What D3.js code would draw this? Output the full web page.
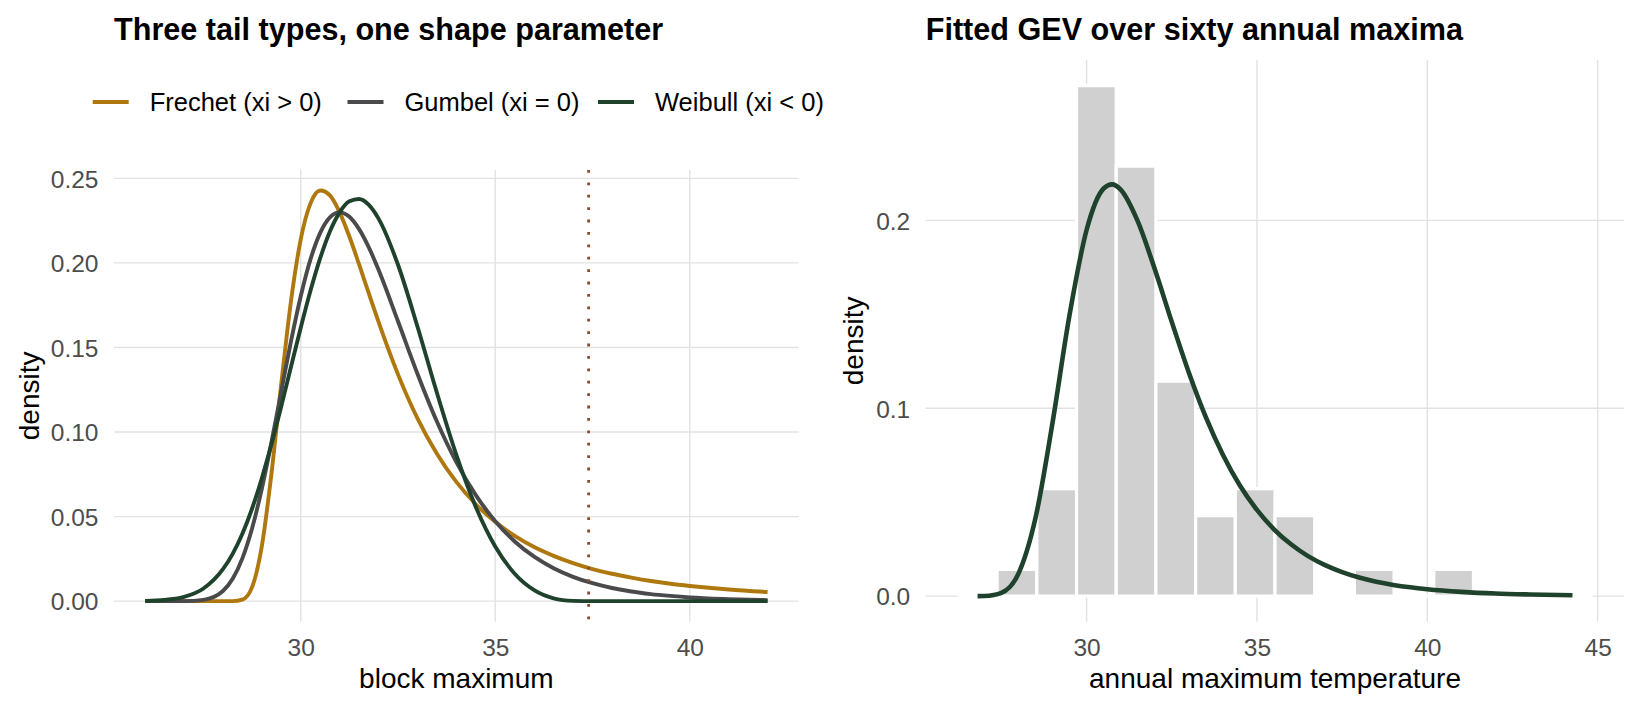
<!DOCTYPE html>
<html>
<head>
<meta charset="utf-8">
<script src="https://cdn.jsdelivr.net/npm/d3@7"></script>
<style>
  html, body { margin: 0; padding: 0; background: #ffffff; }
  svg { display: block; font-family: "Liberation Sans", Arial, Helvetica, sans-serif; }
</style>
</head>
<body>
<script>
// ---------------- data ----------------
const leftX = [26, 26.5, 27, 27.5, 28, 28.25, 28.5, 28.75, 29, 29.25, 29.5, 29.75, 30, 30.25, 30.5, 30.75,
  31, 31.25, 31.5, 31.75, 32, 32.5, 33, 33.5, 34, 34.5, 35, 35.5, 36, 36.5, 37, 37.5, 38, 38.5, 39, 39.5, 40, 41, 42];
const frechet = [0, 0, 0, 0, 0, 0.00002, 0.0009, 0.0083, 0.0325, 0.0759, 0.1286, 0.1775, 0.2139, 0.2352, 0.2428, 0.2399,
  0.2299, 0.2156, 0.1991, 0.1820, 0.1651, 0.1341, 0.1081, 0.0872, 0.0705, 0.0573, 0.0469, 0.0386, 0.0320, 0.0268, 0.0225,
  0.0190, 0.0162, 0.0139, 0.0119, 0.0103, 0.0090, 0.0069, 0.0054];
const gumbel = [0, 0, 0.00004, 0.0008, 0.0060, 0.0132, 0.0253, 0.0431, 0.0665, 0.0943, 0.1242, 0.1537, 0.1803, 0.2021, 0.2178, 0.2270,
  0.2299, 0.2273, 0.2200, 0.2092, 0.1959, 0.1655, 0.1345, 0.1062, 0.0822, 0.0627, 0.0473, 0.0353, 0.0263, 0.0195, 0.0144,
  0.0106, 0.0078, 0.0057, 0.0042, 0.0031, 0.0022, 0.0012, 0.0006];
const weibull = [0.0002, 0.0007, 0.0025, 0.0075, 0.0189, 0.0280, 0.0399, 0.0548, 0.0727, 0.0930, 0.1153, 0.1386, 0.1617, 0.1835, 0.2028, 0.2186,
  0.2299, 0.2364, 0.2378, 0.2343, 0.2262, 0.1989, 0.1624, 0.1232, 0.0865, 0.0557, 0.0323, 0.0162, 0.0065, 0.0017, 0.0002,
  0, 0, 0, 0, 0, 0, 0, 0];
const seriesNames = ["Frechet (xi > 0)", "Gumbel (xi = 0)", "Weibull (xi < 0)"];
const upperBound = 37.4;           // dotted reference line
const leftXTicks = [30, 35, 40];
const leftYTicks = [0, 0.05, 0.10, 0.15, 0.20, 0.25];

const binStart = 26.21;
const binWidth = 1.165;
const histDensity = [0, 0.0143, 0.0572, 0.2718, 0.2289, 0.1144, 0.0429, 0.0572, 0.0429, 0, 0.0143, 0, 0.0143, 0, 0, 0];
const fitX = [26.8, 27, 27.5, 28, 28.5, 29, 29.5, 30, 30.5, 30.75, 31, 31.5, 32, 32.5, 33, 33.5, 34, 34.5, 35, 35.5,
  36, 36.5, 37, 37.5, 38, 38.5, 39, 39.5, 40, 41, 42, 43, 44.26];
const fitY = [0.0000, 0.0001, 0.0018, 0.0120, 0.0416, 0.0923, 0.1497, 0.1949, 0.2170, 0.2192, 0.2164, 0.1996, 0.1741, 0.1460,
  0.1191, 0.0953, 0.0753, 0.0589, 0.0459, 0.0356, 0.0276, 0.0213, 0.0165, 0.0128, 0.0099, 0.0077, 0.0060, 0.0047, 0.0037,
  0.0023, 0.0014, 0.0009, 0.0005];
const rightXTicks = [30, 35, 40, 45];
const rightYTicks = [0, 0.1, 0.2];

// ---------------- styling ----------------
const colors = ["#AF780F", "#4A4A4C", "#1F422C"];
const gridColor = "#E2E2E2";
const tickColor = "#4D4D4D";
const W = 1651, H = 710;

const svg = d3.select("body").append("svg").attr("width", W).attr("height", H);

function expand(lo, hi) { const d = (hi - lo) * 0.05; return [lo - d, hi + d]; }

// ================= LEFT PANEL =================
const L = { x0: 114, x1: 798.7, y0: 170, y1: 621.7 };
const allLeft = frechet.concat(gumbel, weibull);
const xl = d3.scaleLinear().domain(expand(d3.min(leftX), d3.max(leftX))).range([L.x0, L.x1]);
const yl = d3.scaleLinear().domain(expand(0, d3.max(allLeft))).range([L.y1, L.y0]);

const gl = svg.append("g");
// grid
gl.selectAll("line.hg").data(leftYTicks).join("line")
  .attr("x1", L.x0).attr("x2", L.x1).attr("y1", d => yl(d)).attr("y2", d => yl(d))
  .attr("stroke", gridColor).attr("stroke-width", 1.4);
gl.selectAll("line.vg").data(leftXTicks).join("line")
  .attr("y1", L.y0).attr("y2", L.y1).attr("x1", d => xl(d)).attr("x2", d => xl(d))
  .attr("stroke", gridColor).attr("stroke-width", 1.4);

// axes (text only, via d3 axes)
const axL = gl.append("g").attr("transform", `translate(${L.x0 - 15.5},0)`)
  .call(d3.axisLeft(yl).tickValues(leftYTicks).tickFormat(d3.format(".2f")).tickSize(0).tickPadding(0));
const axB = gl.append("g").attr("transform", `translate(0,${L.y1 + 15})`)
  .call(d3.axisBottom(xl).tickValues(leftXTicks).tickFormat(d3.format("d")).tickSize(0).tickPadding(0));
[axL, axB].forEach(a => { a.select(".domain").remove(); a.selectAll("text").attr("fill", tickColor).attr("font-size", 24.5).attr("font-family", null); });
axL.selectAll("text").attr("dy", "0.36em");
axB.selectAll("text").attr("dy", "0.8em");

// curves
const lineL = d3.line().x(d => xl(d[0])).y(d => yl(d[1])).curve(d3.curveMonotoneX);
[frechet, gumbel, weibull].forEach((s, i) => {
  gl.append("path").datum(leftX.map((x, k) => [x, s[k]]))
    .attr("d", lineL).attr("fill", "none").attr("stroke", colors[i])
    .attr("stroke-width", 3.9).attr("stroke-linejoin", "round");
});
// dotted line
gl.append("line").attr("x1", xl(upperBound)).attr("x2", xl(upperBound)).attr("y1", L.y0).attr("y2", L.y1)
  .attr("stroke", "#8A4A2E").attr("stroke-width", 2.8).attr("stroke-dasharray", "2.8 9.6");

// titles
svg.append("text").attr("x", L.x0).attr("y", 40).attr("font-size", 30.6).attr("font-weight", "bold")
  .attr("fill", "#000").text("Three tail types, one shape parameter");
svg.append("text").attr("x", (L.x0 + L.x1) / 2).attr("y", 688).attr("text-anchor", "middle")
  .attr("font-size", 28).attr("fill", "#000").text("block maximum");
svg.append("text").attr("transform", `translate(39,${(L.y0 + L.y1) / 2}) rotate(-90)`).attr("text-anchor", "middle")
  .attr("font-size", 28).attr("fill", "#000").text("density");

// legend
const legendKeyX = [92.7, 347.5, 598];
const legY = 102;
seriesNames.forEach((n, i) => {
  svg.append("line").attr("x1", legendKeyX[i]).attr("x2", legendKeyX[i] + 36).attr("y1", legY).attr("y2", legY)
    .attr("stroke", colors[i]).attr("stroke-width", 4);
  svg.append("text").attr("x", legendKeyX[i] + 57).attr("y", legY).attr("dy", "0.36em")
    .attr("font-size", 25.5).attr("fill", "#000").text(n);
});

// ================= RIGHT PANEL =================
const R = { x0: 925.7, x1: 1624.3, y0: 60, y1: 621.7 };
const nb = histDensity.length;
const bins = histDensity.map((d, i) => ({ a: binStart + i * binWidth, b: binStart + (i + 1) * binWidth, d }));
const xr = d3.scaleLinear().domain(expand(binStart, binStart + nb * binWidth)).range([R.x0, R.x1]);
const yr = d3.scaleLinear().domain(expand(0, d3.max(histDensity))).range([R.y1, R.y0]);

const gr = svg.append("g");
gr.selectAll("line.hg").data(rightYTicks).join("line")
  .attr("x1", R.x0).attr("x2", R.x1).attr("y1", d => yr(d)).attr("y2", d => yr(d))
  .attr("stroke", gridColor).attr("stroke-width", 1.4);
gr.selectAll("line.vg").data(rightXTicks).join("line")
  .attr("y1", R.y0).attr("y2", R.y1).attr("x1", d => xr(d)).attr("x2", d => xr(d))
  .attr("stroke", gridColor).attr("stroke-width", 1.4);

const axRL = gr.append("g").attr("transform", `translate(${R.x0 - 15.5},0)`)
  .call(d3.axisLeft(yr).tickValues(rightYTicks).tickFormat(d3.format(".1f")).tickSize(0).tickPadding(0));
const axRB = gr.append("g").attr("transform", `translate(0,${R.y1 + 15})`)
  .call(d3.axisBottom(xr).tickValues(rightXTicks).tickFormat(d3.format("d")).tickSize(0).tickPadding(0));
[axRL, axRB].forEach(a => { a.select(".domain").remove(); a.selectAll("text").attr("fill", tickColor).attr("font-size", 24.5).attr("font-family", null); });
axRL.selectAll("text").attr("dy", "0.36em");
axRB.selectAll("text").attr("dy", "0.8em");

// histogram bars (zero-height bins still draw their white outline)
gr.selectAll("path.bar").data(bins).join("path")
  .attr("d", b => `M${xr(b.a)},${yr(0)}L${xr(b.a)},${yr(b.d)}L${xr(b.b)},${yr(b.d)}L${xr(b.b)},${yr(0)}Z`)
  .attr("fill", "#D0D0D0").attr("stroke", "#FFFFFF").attr("stroke-width", 3.2);

const lineR = d3.line().x(d => xr(d[0])).y(d => yr(d[1])).curve(d3.curveMonotoneX);
gr.append("path").datum(fitX.map((x, k) => [x, fitY[k]]))
  .attr("d", lineR).attr("fill", "none").attr("stroke", colors[2]).attr("stroke-width", 4.6).attr("stroke-linejoin", "round");

svg.append("text").attr("x", R.x0).attr("y", 40).attr("font-size", 30.6).attr("font-weight", "bold")
  .attr("fill", "#000").text("Fitted GEV over sixty annual maxima");
svg.append("text").attr("x", (R.x0 + R.x1) / 2).attr("y", 688).attr("text-anchor", "middle")
  .attr("font-size", 28).attr("fill", "#000").text("annual maximum temperature");
svg.append("text").attr("transform", `translate(863,${(R.y0 + R.y1) / 2}) rotate(-90)`).attr("text-anchor", "middle")
  .attr("font-size", 28).attr("fill", "#000").text("density");
</script>
</body>
</html>
